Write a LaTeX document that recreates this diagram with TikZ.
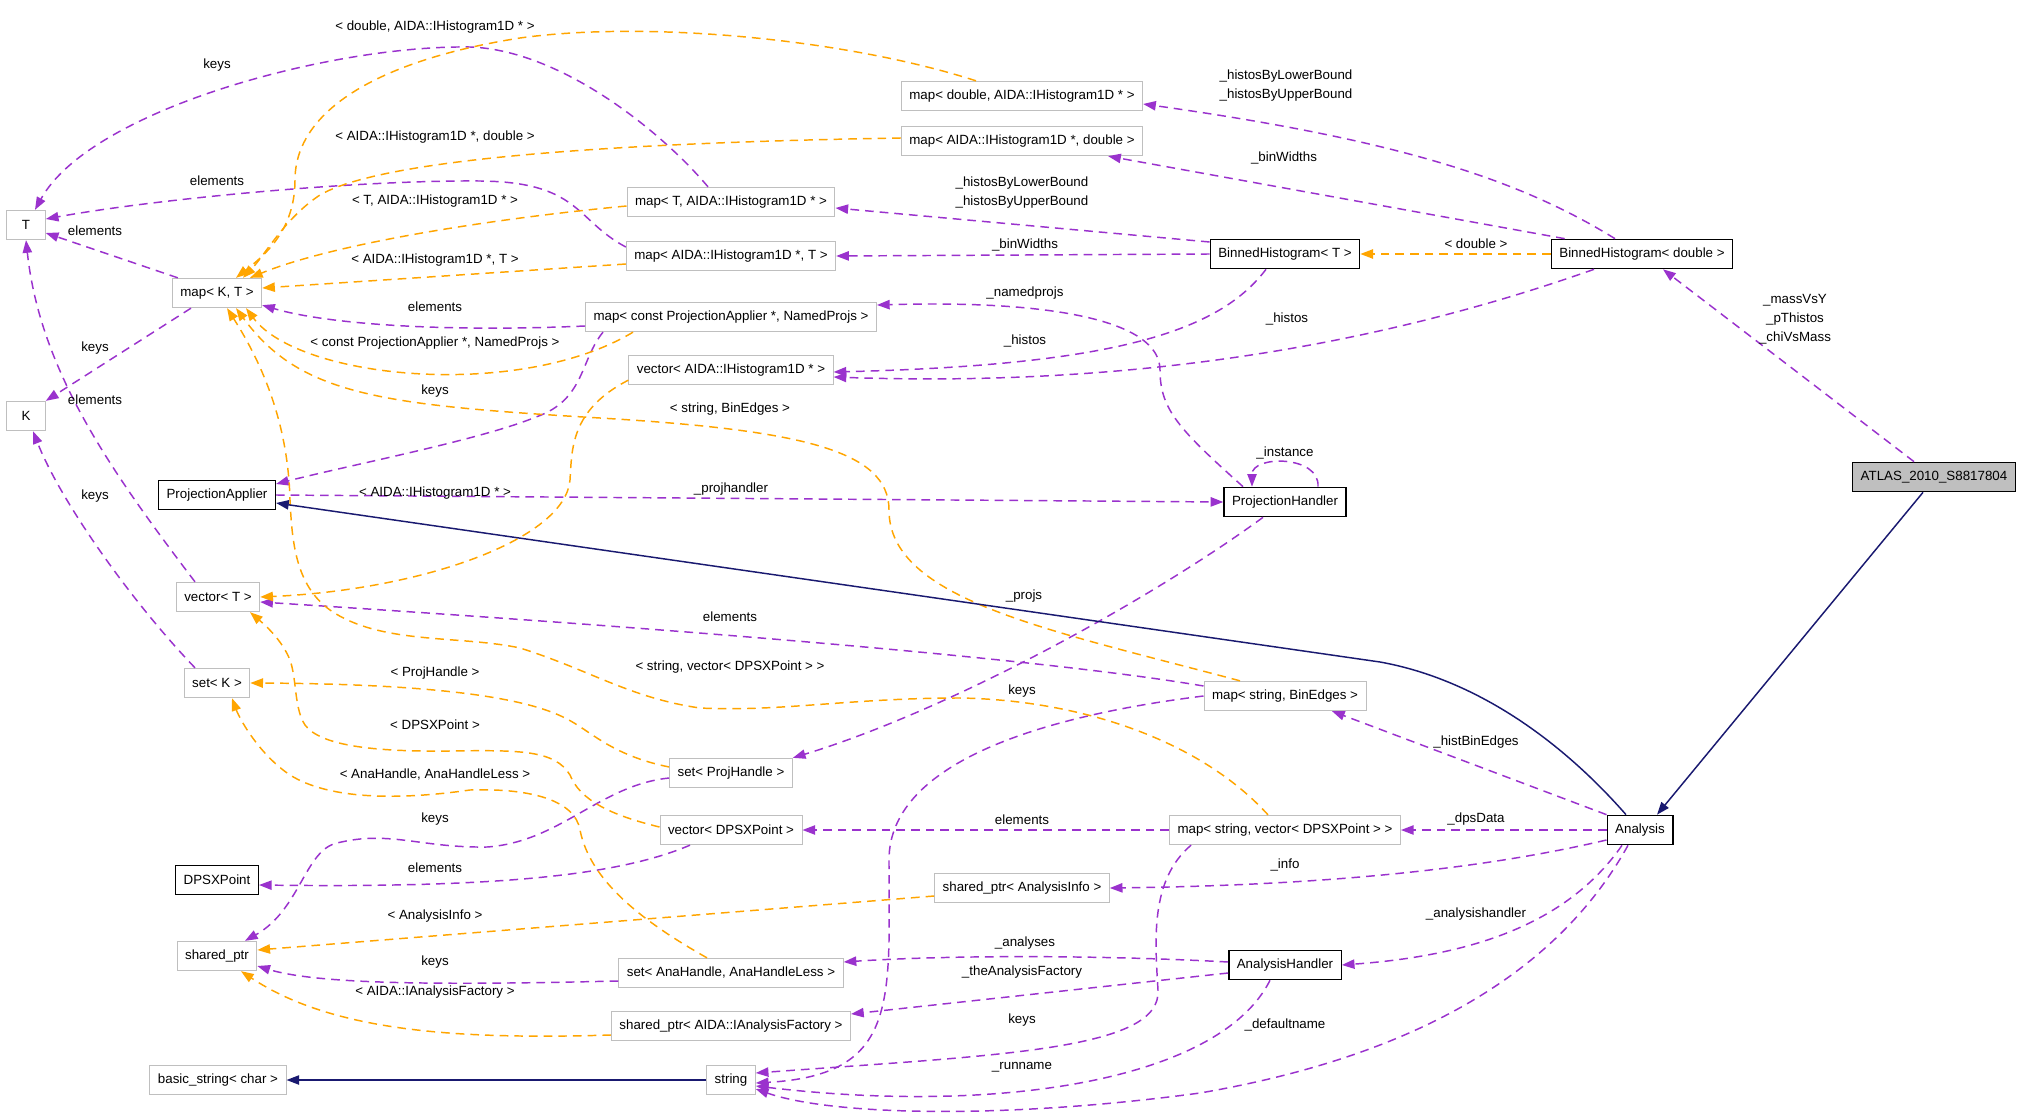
\documentclass[tikz,border=0pt]{standalone}
\usepackage{fontspec}
\setmainfont{Liberation Sans}
\usetikzlibrary{arrows.meta,calc}
\definecolor{edge-purple}{HTML}{9A32CD}
\definecolor{edge-orange}{HTML}{FFA500}
\definecolor{edge-blue}{HTML}{191970}
\definecolor{light-gray}{HTML}{BFBFBF}
\tikzstyle{classbox}=[draw=light-gray,line width=0.75pt,minimum height=22pt,minimum width=29pt,inner xsep=6pt,inner ysep=0pt,font=\fontsize{10}{12}\selectfont]
\tikzstyle{docbox}=[classbox,draw=black,line width=1pt]
\tikzstyle{usage}=[draw=edge-purple,line width=1.1pt,dash pattern=on 6.5pt off 4.5pt,-{Triangle[length=9.5pt,width=7pt]}]
\tikzstyle{templ}=[usage,draw=edge-orange]
\tikzstyle{inherit}=[draw=edge-blue,line width=1.1pt,-{Triangle[length=9.5pt,width=7pt]}]
\tikzstyle{lbl}=[font=\fontsize{10}{14.25}\selectfont,align=center,inner sep=0pt]
\newcommand{\addclass}[4][classbox]{
  \node[#1] (#2) at (#3) {#4};
}
\begin{document}
\begin{tikzpicture}[x=0.75pt,y=-0.75pt] % one unit = one pixel of the 2021x1120 picture
\useasboundingbox[fill=white] (0,0) rectangle (2021,1120);
% left column
\addclass{T}{26,225}{T}
\addclass{K}{26,416}{K}
\addclass{mapkt}{217,293}{map< K, T >}
\addclass[docbox]{projapp}{217,495}{ProjectionApplier}
\addclass{vect}{218,597}{vector< T >}
\addclass{setk}{217,683}{set< K >}
\addclass[docbox]{dpsx}{217,880}{DPSXPoint}
\addclass{shptr}{217,956}{shared\_ptr}
\addclass{bstring}{218,1080}{basic\_string< char >}
% middle column
\addclass{maptah}{731,202}{map< T, AIDA::IHistogram1D * >}
\addclass{mapaht}{731,256}{map< AIDA::IHistogram1D *, T >}
\addclass{mappa}{731,317}{map< const ProjectionApplier *, NamedProjs >}
\addclass{vecah}{731,370}{vector< AIDA::IHistogram1D * >}
\addclass{setph}{731,773}{set< ProjHandle >}
\addclass{vecdps}{731,830}{vector< DPSXPoint >}
\addclass{setana}{731,973}{set< AnaHandle, AnaHandleLess >}
\addclass{shpfac}{731,1026}{shared\_ptr< AIDA::IAnalysisFactory >}
\addclass{str}{731,1080}{string}
\addclass{mapdah}{1022,96}{map< double, AIDA::IHistogram1D * >}
\addclass{mapahd}{1022,141}{map< AIDA::IHistogram1D *, double >}
\addclass{shpinfo}{1022,888}{shared\_ptr< AnalysisInfo >}
% right columns
\addclass[docbox]{binht}{1285,254}{BinnedHistogram< T >}
\addclass[docbox]{projh}{1285,502}{ProjectionHandler}
\addclass{mapsbe}{1285,696}{map< string, BinEdges >}
\addclass{mapsvd}{1285,830}{map< string, vector< DPSXPoint > >}
\addclass[docbox]{anah}{1285,965}{AnalysisHandler}
\addclass[docbox]{binhd}{1642,254}{BinnedHistogram< double >}
\addclass[docbox]{ana}{1640,830}{Analysis}
\addclass[docbox,fill=light-gray]{atlas}{1934,477}{ATLAS\_2010\_S8817804}

% members
\draw[usage] ($(mapkt.north west)+(6,0)$) -- ($(T.east)+(0,8)$) node[lbl,at={(95,231)}] {elements};
\draw[usage] ($(mapkt.south)+(-26,0)$) -- (K.north east) node[lbl,at={(95,348)}] {keys};
\draw[usage] ($(maptah.north)+(-23,0)$) .. controls (660,130) and (560,50) .. (470,47) .. controls (330,45) and (90,110) .. ($(T.north)+(9,0)$) node[lbl,at={(217,65)}] {keys};
\draw[usage] ($(mapaht.west)+(0,-9)$) .. controls (575,220) and (580,182) .. (480,181) .. controls (350,180) and (150,200) .. ($(T.east)+(0,-6)$) node[lbl,at={(217,181)}] {elements};
\draw[usage] ($(vect.north)+(-23,0)$) .. controls (110,470) and (40,370) .. (T.south) node[lbl,at={(95,400)}] {elements};
\draw[usage] ($(setk.north)+(-22,0)$) .. controls (130,600) and (60,500) .. ($(K.south)+(7,0)$) node[lbl,at={(95,496)}] {keys};
\draw[usage] ($(mappa.west)+(0,9)$) .. controls (450,332) and (330,325) .. ($(mapkt.south east)+(0,-3)$) node[lbl,at={(435,307)}] {elements};
\draw[usage] ($(mappa.south west)+(18,0)$) .. controls (580,360) and (585,400) .. (536,417) .. controls (480,440) and (350,465) .. ($(projapp.east)+(0,-11)$) node[lbl,at={(435,391)}] {keys};
\draw[usage] (projapp.east) -- (projh.west) node[lbl,at={(731,489)}] {\_projhandler};
\draw[usage] ($(projh.north)+(-42,0)$) .. controls (1180,430) and (1160,410) .. (1160,370) .. controls (1160,320) and (1050,300) .. ($(mappa.east)+(0,-12)$) node[lbl,at={(1025,293)}] {\_namedprojs};
\draw[usage] ($(projh.north)+(33,0)$) .. controls (1320,455) and (1252,455) .. ($(projh.north)+(-33,0)$) node[lbl,at={(1285,453)}] {\_instance};
\draw[usage] ($(binht.west)+(0,-12)$) -- ($(maptah.east)+(0,6)$) node[lbl,at={(1022,193)}] {\_histosByLowerBound\\\_histosByUpperBound};
\draw[usage] (binht.west) -- (mapaht.east) node[lbl,at={(1025,245)}] {\_binWidths};
\draw[usage] ($(binht.south)+(-19,0)$) .. controls (1220,330) and (1120,365) .. ($(vecah.east)+(0,2)$) node[lbl,at={(1025,341)}] {\_histos};
\draw[usage] ($(binhd.north)+(-27,0)$) .. controls (1520,180) and (1400,140) .. ($(mapdah.east)+(0,8)$) node[lbl,at={(1286,86)}] {\_histosByLowerBound\\\_histosByUpperBound};
\draw[usage] ($(binhd.north west)+(14,0)$) -- ($(mapahd.south east)+(-35,0)$) node[lbl,at={(1284,158)}] {\_binWidths};
\draw[usage] ($(binhd.south)+(-48,0)$) .. controls (1450,320) and (1200,390) .. ($(vecah.east)+(0,7)$) node[lbl,at={(1287,319)}] {\_histos};
\draw[usage] ($(atlas.north)+(-20,0)$) -- ($(binhd.south)+(21,0)$) node[lbl,at={(1795,319)}] {\_massVsY\\\_pThistos\\\_chiVsMass};
\draw[usage] (ana.north west) -- ($(mapsbe.south)+(47,0)$) node[lbl,at={(1476,742)}] {\_histBinEdges};
\draw[usage] (ana.west) -- (mapsvd.east) node[lbl,at={(1476,819)}] {\_dpsData};
\draw[usage] ($(ana.west)+(0,10)$) .. controls (1500,865) and (1350,885) .. (shpinfo.east) node[lbl,at={(1285,865)}] {\_info};
\draw[usage] ($(ana.south)+(-18,0)$) .. controls (1570,920) and (1480,955) .. (anah.east) node[lbl,at={(1476,914)}] {\_analysishandler};
\draw[usage] ($(ana.south)+(-12,0)$) .. controls (1570,950) and (1450,1050) .. (1200,1093) .. controls (1000,1120) and (830,1115) .. ($(str.east)+(0,9)$) node[lbl,at={(1285,1025)}] {\_defaultname};
\draw[usage] ($(anah.west)+(0,-3)$) .. controls (1100,955) and (950,955) .. ($(setana.east)+(0,-11)$) node[lbl,at={(1025,943)}] {\_analyses};
\draw[usage] ($(anah.west)+(0,8)$) -- ($(shpfac.east)+(0,-12)$) node[lbl,at={(1022,972)}] {\_theAnalysisFactory};
\draw[usage] ($(anah.south)+(-15,0)$) .. controls (1220,1080) and (1000,1115) .. ($(str.east)+(0,6)$) node[lbl,at={(1022,1067)}] {\_runname};
\draw[usage] (mapsvd.west) -- (vecdps.east) node[lbl,at={(1022,820)}] {elements};
\draw[usage] ($(mapsvd.south west)+(22,0)$) .. controls (1150,880) and (1155,940) .. (1158,990) .. controls (1162,1050) and (1000,1055) .. ($(str.east)+(0,-7)$) node[lbl,at={(1022,1020)}] {keys};
\draw[usage] (mapsbe.west) .. controls (1050,715) and (889,760) .. (889,860) .. controls (889,1000) and (900,1075) .. ($(str.east)+(0,3)$) node[lbl,at={(1022,691)}] {keys};
\draw[usage] ($(mapsbe.west)+(0,-10)$) .. controls (1050,660) and (700,630) .. ($(vect.east)+(0,5)$) node[lbl,at={(730,617)}] {elements};
\draw[usage] ($(projh.south)+(-22,0)$) .. controls (1150,600) and (950,710) .. (setph.north east) node[lbl,at={(1024,596)}] {\_projs};
\draw[usage] ($(setph.west)+(0,5)$) .. controls (600,785) and (560,842) .. (487,847) .. controls (420,848) and (390,830) .. (337,843) .. controls (305,850) and (300,910) .. ($(shptr.north)+(28,0)$) node[lbl,at={(435,819)}] {keys};
\draw[usage] ($(vecdps.south)+(-41,0)$) .. controls (620,875) and (500,888) .. ($(dpsx.east)+(0,5)$) node[lbl,at={(435,868)}] {elements};
\draw[usage] ($(setana.west)+(0,8)$) .. controls (450,985) and (320,985) .. ($(shptr.east)+(0,10)$) node[lbl,at={(435,962)}] {keys};

% template instances
\draw[templ] ($(mapdah.north)+(-46,0)$) .. controls (850,40) and (650,20) .. (520,38) .. controls (380,60) and (295,110) .. (295,180) .. controls (295,230) and (265,255) .. ($(mapkt.north)+(19,0)$) node[lbl,at={(435,27)}] {< double, AIDA::IHistogram1D * >};
\draw[templ] ($(mapahd.west)+(0,-3)$) .. controls (600,143) and (380,160) .. (320,195) .. controls (285,218) and (265,255) .. ($(mapkt.north)+(26,0)$) node[lbl,at={(435,137)}] {< AIDA::IHistogram1D *, double >};
\draw[templ] ($(maptah.west)+(0,4)$) .. controls (480,220) and (330,245) .. ($(mapkt.north)+(33,0)$) node[lbl,at={(435,201)}] {< T, AIDA::IHistogram1D * >};
\draw[templ] ($(mapaht.west)+(0,8)$) -- ($(mapkt.east)+(0,-5)$) node[lbl,at={(435,260)}] {< AIDA::IHistogram1D *, T >};
\draw[templ] ($(mappa.south west)+(48,0)$) .. controls (520,400) and (300,380) .. ($(mapkt.south)+(29,0)$) node[lbl,at={(435,343)}] {< const ProjectionApplier *, NamedProjs >};
\draw[templ] ($(vecah.south west)+(0,-5)$) .. controls (570,410) and (572,450) .. (570,480) .. controls (565,540) and (420,590) .. (vect.east) node[lbl,at={(435,493)}] {< AIDA::IHistogram1D * >};
\draw[templ] ($(mapsbe.north)+(-45,0)$) .. controls (1050,630) and (889,600) .. (889,510) .. controls (889,450) and (800,430) .. (600,418) .. controls (380,405) and (300,395) .. ($(mapkt.south)+(19,0)$) node[lbl,at={(730,409)}] {< string, BinEdges >};
\draw[templ] ($(mapsvd.north)+(-17,0)$) .. controls (1200,740) and (1080,700) .. (960,698) .. controls (850,698) and (780,712) .. (700,708) .. controls (630,698) and (590,670) .. (520,648) .. controls (460,635) and (380,645) .. (330,610) .. controls (295,585) and (292,540) .. (290,500) .. controls (288,420) and (260,360) .. ($(mapkt.south)+(10,0)$) node[lbl,at={(730,667)}] {< string, vector< DPSXPoint > >};
\draw[templ] ($(setph.west)+(0,-6)$) .. controls (610,755) and (590,730) .. (565,718) .. controls (530,700) and (450,684) .. (setk.east) node[lbl,at={(435,673)}] {< ProjHandle >};
\draw[templ] ($(vecdps.west)+(0,-3)$) .. controls (610,815) and (580,800) .. (570,775) .. controls (555,750) and (520,750) .. (450,751) .. controls (370,752) and (320,745) .. (305,725) .. controls (294,708) and (297,680) .. (290,660) .. controls (282,640) and (265,625) .. ($(vect.south)+(32,0)$) node[lbl,at={(435,725)}] {< DPSXPoint >};
\draw[templ] ($(setana.north)+(-24,0)$) .. controls (640,920) and (590,880) .. (580,830) .. controls (575,800) and (530,788) .. (470,790) .. controls (400,800) and (330,800) .. (290,775) .. controls (260,755) and (240,720) .. ($(setk.south)+(15,0)$) node[lbl,at={(435,775)}] {< AnaHandle, AnaHandleLess >};
\draw[templ] ($(shpinfo.west)+(0,8)$) -- ($(shptr.east)+(0,-6)$) node[lbl,at={(435,916)}] {< AnalysisInfo >};
\draw[templ] ($(shpfac.west)+(0,9)$) .. controls (450,1040) and (330,1030) .. ($(shptr.south)+(24,0)$) node[lbl,at={(435,992)}] {< AIDA::IAnalysisFactory >};
\draw[templ] (binhd.west) -- (binht.east) node[lbl,at={(1476,244)}] {< double >};

% base classes
\draw[inherit] ($(ana.north)+(-14,0)$) .. controls (1565,745) and (1480,680) .. (1380,662) -- ($(projapp.east)+(0,8)$);
\draw[inherit] ($(atlas.south)+(-11,0)$) -- ($(ana.north)+(17,0)$);
\draw[inherit] (str.west) -- (bstring.east);
\end{tikzpicture}
\end{document}
